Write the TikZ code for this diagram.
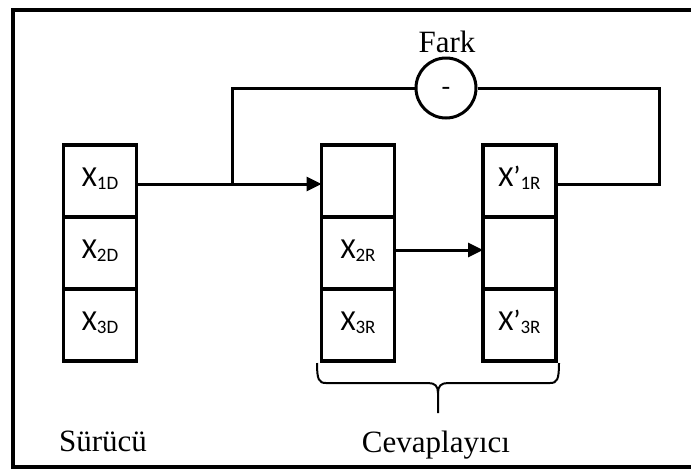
\documentclass[tikz,border=0pt]{standalone}
\usepackage{fontspec}
\setmainfont{Liberation Serif}
\newfontfamily\calib{Carlito}
\usetikzlibrary{arrows.meta}
\newcommand{\lbl}[2]{{\calib\fontsize{29}{29}\selectfont #1\raisebox{-3pt}{\fontsize{19}{19}\selectfont #2}}}
\tikzset{
  cell/.style={draw, line width=3.4pt, minimum width=73pt, minimum height=72pt, inner sep=0pt, outer sep=0pt, text height=18pt, text depth=8pt},
  conn/.style={line width=3pt},
  arr/.style={conn, -{Triangle[length=15pt,width=14pt]}},
  serif/.style={font=\fontsize{31}{31}\selectfont, inner sep=0pt}
}
\begin{document}
\begin{tikzpicture}[x=1pt,y=-1pt]
\useasboundingbox (0,0) rectangle (691,469);
% frame
\draw[line width=3.8pt] (695,10) -| (13,467) -- (695,467);
% driver column
\node[cell] (d1) at (100,181) {\lbl{X}{1D}};
\node[cell] (d2) at (100,253) {\lbl{X}{2D}};
\node[cell] (d3) at (100,325) {\lbl{X}{3D}};
% responder column 1
\node[cell] (r1) at (358,181) {};
\node[cell] (r2) at (358,253) {\lbl{X}{2R}};
\node[cell] (r3) at (358,325) {\lbl{X}{3R}};
% responder column 2
\node[cell] (s1) at (519.5,181) {\lbl{X’}{1R}};
\node[cell] (s2) at (519.5,253) {};
\node[cell] (s3) at (519.5,325) {\lbl{X’}{3R}};
% difference circle
\node[draw, circle, line width=3pt, minimum size=60pt, inner sep=0pt] (c) at (446,88) {};
\node[font=\fontsize{26}{26}\selectfont, inner sep=0pt] (minus) at (446,91) {-};
\node[serif, anchor=base] (fark) at (447,52) {Fark};
% connectors
\coordinate (br) at (232,184);
\coordinate (tl) at (232,88);
\coordinate (tr) at (659,88);
\coordinate (rr) at (659,184);
\draw[arr] (d1.east |- br) -- (r1.west |- br);
\draw[conn] (br) -- (tl) -- (c.west);
\draw[conn] (c.east) -- (tr) -- (rr) -- (s1.east |- rr);
\draw[arr] (r2.east) ++(0,-3) -- (s2.west |- 0,250);
% brace
\coordinate (bl) at (317,363);
\coordinate (bt) at (438,413);
\coordinate (bre) at (559,363);
\draw[line width=2pt] (bl) .. controls (317,380) and (319,383) .. (326,383) -- (428,383)
  .. controls (435,383) and (438,386) .. (438,393) -- (bt);
\draw[line width=2pt] (bre) .. controls (559,380) and (557,383) .. (550,383) -- (448,383)
  .. controls (441,383) and (438,386) .. (438,393);
% labels
\node[serif, anchor=base] (sur) at (103,451) {Sürücü};
\node[serif, anchor=base] (cev) at (436,452) {Cevaplayıcı};
\end{tikzpicture}
\end{document}
